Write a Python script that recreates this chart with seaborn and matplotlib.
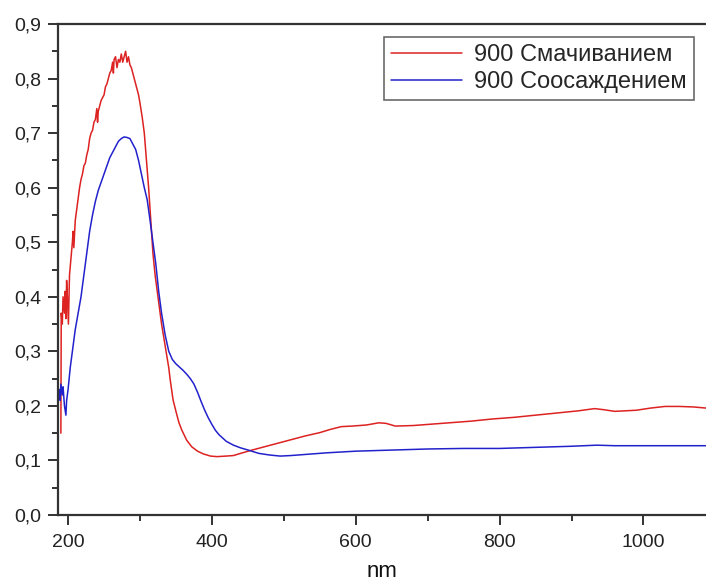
import numpy as np
import pandas as pd
import matplotlib
matplotlib.use("Agg")
import matplotlib.pyplot as plt
import seaborn as sns
from matplotlib.ticker import MultipleLocator, FixedLocator, FixedFormatter

# ---- data ----
red_label = "900 Смачиванием"
blue_label = "900 Соосаждением"

red_nm = [190, 190.5, 192, 193, 195, 196, 197, 198, 199, 200.5, 202, 204, 206, 207, 208,
          210, 212, 214, 216, 218, 220, 222, 224, 226, 228, 230, 232, 234, 236, 238, 240,
          241, 242, 244, 246, 248, 250, 252, 254, 256, 258, 260, 262, 263, 264, 266, 268,
          270, 272, 274, 276, 278, 280, 282, 284, 286, 288, 290, 292, 294, 296, 298, 300,
          303, 306, 309, 312, 315, 318, 321, 325, 330, 335, 340, 342, 346, 350, 354, 358,
          365, 372, 380, 388, 398, 407, 420, 430, 440, 453, 470, 490, 510, 530, 550, 565,
          580, 595, 615, 632, 642, 655, 680, 700, 730, 760, 790, 820, 850, 880, 910, 932,
          945, 960, 990, 1010, 1030, 1050, 1070, 1087]
red_val = [0.15, 0.37, 0.35, 0.40, 0.37, 0.41, 0.36, 0.43, 0.40, 0.35, 0.44, 0.47, 0.50, 0.52, 0.49,
           0.54, 0.56, 0.58, 0.60, 0.615, 0.625, 0.64, 0.645, 0.66, 0.67, 0.69, 0.70, 0.705, 0.72, 0.725, 0.745,
           0.72, 0.74, 0.75, 0.76, 0.765, 0.77, 0.785, 0.79, 0.80, 0.81, 0.815, 0.83, 0.81, 0.835, 0.84, 0.82,
           0.835, 0.83, 0.845, 0.83, 0.84, 0.85, 0.83, 0.84, 0.825, 0.82, 0.81, 0.80, 0.79, 0.78, 0.77, 0.755,
           0.73, 0.70, 0.65, 0.60, 0.54, 0.48, 0.44, 0.40, 0.35, 0.31, 0.27, 0.248, 0.211, 0.19, 0.17, 0.156,
           0.137, 0.125, 0.117, 0.112, 0.108, 0.107, 0.108, 0.109, 0.113, 0.118, 0.124, 0.131, 0.138, 0.145, 0.151, 0.157,
           0.162, 0.163, 0.165, 0.169, 0.168, 0.163, 0.164, 0.166, 0.169, 0.172, 0.176, 0.179, 0.183, 0.187, 0.191, 0.195,
           0.193, 0.19, 0.192, 0.196, 0.199, 0.199, 0.198, 0.196]

blue_nm = [188, 189, 190, 192, 193, 195, 197, 198, 200, 203, 206, 210, 214, 218, 222, 226,
           230, 234, 238, 242, 246, 250, 254, 258, 262, 266, 270, 274, 278, 282, 286, 290,
           294, 298, 302, 306, 310, 314, 318, 322, 326, 330, 335, 340, 345, 350, 355, 360,
           365, 370, 375, 380, 385, 390, 395, 400, 405, 410, 420, 430, 440, 453, 465, 480,
           495, 510, 530, 560, 600, 650, 700, 750, 800, 850, 900, 935, 960, 1000, 1040, 1087]
blue_val = [0.23, 0.21, 0.24, 0.22, 0.235, 0.20, 0.183, 0.21, 0.23, 0.27, 0.30, 0.34, 0.37, 0.40, 0.44, 0.48,
            0.52, 0.55, 0.575, 0.595, 0.61, 0.625, 0.64, 0.655, 0.665, 0.675, 0.685, 0.69, 0.693, 0.692, 0.69, 0.68,
            0.67, 0.65, 0.625, 0.60, 0.578, 0.54, 0.50, 0.46, 0.41, 0.37, 0.33, 0.30, 0.285, 0.277, 0.271, 0.265,
            0.258, 0.25, 0.24, 0.225, 0.208, 0.192, 0.178, 0.166, 0.155, 0.147, 0.135, 0.128, 0.123, 0.118, 0.113, 0.11,
            0.108, 0.109, 0.111, 0.114, 0.117, 0.119, 0.121, 0.122, 0.122, 0.124, 0.126, 0.128, 0.127, 0.127, 0.127, 0.127]

x_ticks = [200, 400, 600, 800, 1000]
x_tick_labels = ["200", "400", "600", "800", "1000"]
y_ticks = [0.0, 0.1, 0.2, 0.3, 0.4, 0.5, 0.6, 0.7, 0.8, 0.9]
y_tick_labels = ["0,0", "0,1", "0,2", "0,3", "0,4", "0,5", "0,6", "0,7", "0,8", "0,9"]
x_label = "nm"

df = pd.concat([
    pd.DataFrame({"nm": red_nm, "val": red_val, "series": red_label}),
    pd.DataFrame({"nm": blue_nm, "val": blue_val, "series": blue_label}),
], ignore_index=True)

# ---- style ----
sns.set_style("ticks")
plt.rcParams["font.family"] = ["Liberation Sans", "DejaVu Sans"]

fig = plt.figure(figsize=(7.06, 5.86), dpi=100)
ax = fig.add_axes([58 / 706, 1 - 515 / 586, 1 - 58 / 706, (515 - 24) / 586])

sns.lineplot(data=df, x="nm", y="val", hue="series",
             palette={red_label: "#dd2222", blue_label: "#2222cc"},
             estimator=None, sort=False, linewidth=1.1, ax=ax)

ax.set_xlim(186, 1087)
ax.set_ylim(0.0, 0.9)

ax.xaxis.set_major_locator(FixedLocator(x_ticks))
ax.xaxis.set_major_formatter(FixedFormatter(x_tick_labels))
ax.xaxis.set_minor_locator(MultipleLocator(100))
ax.yaxis.set_major_locator(FixedLocator(y_ticks))
ax.yaxis.set_major_formatter(FixedFormatter(y_tick_labels))
ax.yaxis.set_minor_locator(MultipleLocator(0.05))

spine_color = "#333333"
for side in ["left", "bottom", "top"]:
    ax.spines[side].set_color(spine_color)
    ax.spines[side].set_linewidth(1.6)
ax.spines["right"].set_visible(False)

ax.tick_params(axis="both", which="major", direction="out", length=7, width=1.4,
               color=spine_color, labelsize=14, labelcolor="#222222", pad=5)
ax.tick_params(axis="x", which="major", pad=7)
ax.tick_params(axis="both", which="minor", direction="out", length=4.5, width=1.4,
               color=spine_color)
ax.tick_params(axis="x", which="both", top=False)

ax.set_xlabel(x_label, fontsize=16, color="#111111", labelpad=7)
ax.set_ylabel("")

leg = ax.legend(loc="upper right", bbox_to_anchor=(0.981, 0.973), frameon=True,
                fancybox=False, shadow=False, fontsize=17, handlelength=3.0,
                handletextpad=0.5, borderpad=0.3, labelspacing=0.2, borderaxespad=0)
leg.get_frame().set_edgecolor("#444444")
leg.get_frame().set_linewidth(1.2)
leg.set_title(None)

fig.savefig("out.png", dpi=100)
